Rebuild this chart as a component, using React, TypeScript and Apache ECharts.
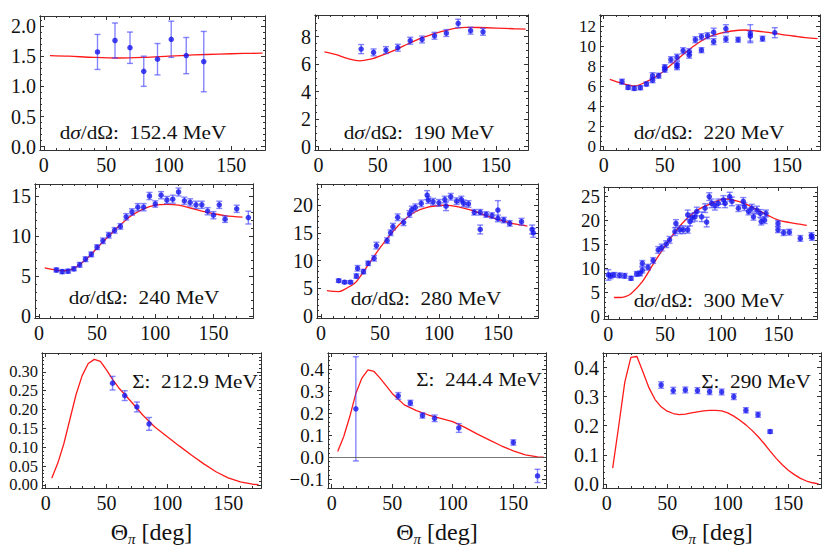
import React, { useEffect, useRef } from "react";
import * as echarts from "echarts";

// ---------- data ----------
const xMajorTicks = [0, 50, 100, 150];
const xMinorTicks = [10, 20, 30, 40, 60, 70, 80, 90, 110, 120, 130, 140, 160, 170];

const panelTitles = [
  "d{i|σ}/dΩ:  152.4 MeV",
  "d{i|σ}/dΩ:  190 MeV",
  "d{i|σ}/dΩ:  220 MeV",
  "d{i|σ}/dΩ:  240 MeV",
  "d{i|σ}/dΩ:  280 MeV",
  "d{i|σ}/dΩ:  300 MeV",
  "Σ:  212.9 MeV",
  "Σ:  244.4 MeV",
  "Σ:  290 MeV",
];
const xAxisTitle = "{a|Θ}{b|π}{a| [deg]}";

// Panel 1: dσ/dΩ 152.4 MeV
const p1Angles = [43, 57, 69, 80, 91, 102, 114, 128];
const p1Values = [1.57, 1.76, 1.64, 1.25, 1.45, 1.78, 1.51, 1.41];
const p1Errors = [0.29, 0.29, 0.26, 0.25, 0.26, 0.3, 0.3, 0.5];
const p1CurveAngles = [5, 20, 40, 60, 80, 100, 120, 140, 160, 175];
const p1CurveValues = [1.51, 1.5, 1.48, 1.47, 1.48, 1.5, 1.52, 1.535, 1.545, 1.55];
const p1YTicks = [0, 0.5, 1, 1.5, 2];

// Panel 2: 190 MeV
const p2Angles = [36, 46.5, 57, 67, 77.5, 87.5, 98, 108, 118, 128.5, 139];
const p2Values = [7.1, 6.86, 7.03, 7.2, 7.71, 7.8, 8.07, 8.27, 8.97, 8.44, 8.36];
const p2Errors = [0.33, 0.25, 0.25, 0.25, 0.25, 0.25, 0.25, 0.25, 0.3, 0.25, 0.25];
const p2CurveAngles = [5, 15, 25, 35, 45, 55, 65, 75, 85, 95, 105, 115, 125, 135, 150, 165, 175];
const p2CurveValues = [6.9, 6.7, 6.4, 6.25, 6.38, 6.7, 7.05, 7.45, 7.85, 8.15, 8.4, 8.6, 8.68, 8.67, 8.63, 8.58, 8.55];
const p2YTicks = [0, 2, 4, 6, 8];

// Panel 3: 220 MeV
const p3Angles = [15, 20, 25, 30, 35, 40, 40, 45, 50, 50, 55, 60, 60, 60, 65, 70, 70, 75, 80, 80, 85, 90, 90, 100, 100, 110, 120, 120, 130, 140];
const p3Values = [6.5, 5.93, 5.83, 5.9, 6.27, 7.1, 6.65, 7.1, 7.7, 7.95, 8.7, 8.2, 8.0, 8.95, 9.6, 9.15, 9.5, 10.7, 11.0, 9.65, 11.1, 11.45, 10.5, 11.8, 10.75, 10.7, 11.3, 11.05, 10.8, 11.4];
const p3Errors = [0.25, 0.2, 0.2, 0.2, 0.2, 0.3, 0.25, 0.25, 0.25, 0.25, 0.3, 0.3, 0.3, 0.3, 0.3, 0.3, 0.3, 0.3, 0.3, 0.25, 0.3, 0.4, 0.3, 0.4, 0.3, 0.25, 0.9, 0.5, 0.25, 0.5];
const p3CurveAngles = [5, 15, 25, 35, 45, 55, 65, 75, 85, 95, 105, 115, 125, 135, 145, 155, 165, 175];
const p3CurveValues = [6.73, 6.33, 6.07, 6.5, 7.17, 8.17, 9.23, 10.17, 10.93, 11.33, 11.57, 11.67, 11.57, 11.43, 11.23, 11.07, 10.9, 10.8];
const p3YTicks = [0, 2, 4, 6, 8, 10, 12];

// Panel 4: 240 MeV
const p4Angles = [15, 20, 25, 30, 35, 40, 45, 50, 55, 60, 65, 70, 75, 80, 85, 90, 95, 100, 105, 110, 115, 120, 125, 130, 135, 140, 145, 150, 155, 160, 170, 180];
const p4Values = [5.75, 5.55, 5.6, 5.9, 6.4, 7.1, 7.7, 8.6, 9.4, 10.1, 10.7, 11.2, 12.4, 13.0, 13.6, 13.6, 15.0, 14.0, 15.1, 14.5, 14.6, 15.5, 14.4, 14.2, 13.9, 13.9, 13.1, 12.6, 13.9, 12.1, 13.4, 12.3];
const p4Errors = [0.25, 0.25, 0.25, 0.25, 0.3, 0.3, 0.3, 0.3, 0.35, 0.35, 0.35, 0.35, 0.4, 0.4, 0.45, 0.45, 0.45, 0.4, 0.45, 0.45, 0.5, 0.5, 0.45, 0.45, 0.45, 0.45, 0.45, 0.45, 0.45, 0.4, 0.45, 0.8];
const p4CurveAngles = [5, 10, 15, 20, 25, 30, 40, 50, 60, 70, 80, 90, 100, 110, 120, 130, 140, 150, 160, 175];
const p4CurveValues = [6.03, 5.85, 5.72, 5.65, 5.72, 5.95, 7.0, 8.5, 10.0, 11.4, 12.6, 13.4, 13.85, 13.95, 13.85, 13.5, 13.1, 12.8, 12.55, 12.35];
const p4YTicks = [0, 5, 10, 15];

// Panel 5: 280 MeV
const p5Angles = [15, 20, 25, 30, 31, 36, 40, 45, 47, 56, 59, 61, 65, 70, 75, 77, 80, 85, 90, 91, 95, 100, 105, 106, 110, 115, 119, 121, 125, 130, 135, 135, 140, 145, 150, 150, 155, 160, 170, 179, 180];
const p5Values = [6.37, 6.1, 6.1, 7.2, 8.6, 8.0, 9.5, 10.4, 12.7, 13.6, 15.0, 16.1, 17.8, 16.9, 18.4, 19.2, 19.6, 20.3, 21.8, 20.9, 20.6, 20.4, 21.0, 19.8, 21.5, 20.7, 21.0, 20.3, 20.2, 18.7, 18.7, 15.6, 18.3, 18.1, 19.1, 17.6, 17.3, 16.7, 17.0, 15.6, 15.0];
const p5Errors = [0.3, 0.25, 0.25, 0.4, 0.5, 0.4, 0.4, 0.5, 0.6, 0.5, 0.5, 0.6, 0.6, 0.6, 0.6, 0.6, 0.6, 0.6, 0.8, 0.6, 0.6, 0.6, 0.6, 0.8, 0.6, 0.6, 0.6, 0.6, 0.6, 0.5, 0.5, 0.8, 0.5, 0.5, 1.7, 0.6, 0.5, 0.5, 0.6, 0.8, 0.8];
const p5CurveAngles = [5, 15, 20, 25, 30, 40, 50, 60, 70, 80, 90, 100, 105, 110, 120, 130, 140, 150, 160, 170, 175];
const p5CurveValues = [4.56, 4.4, 4.8, 5.4, 6.2, 9.2, 12.3, 15.0, 17.2, 18.8, 19.6, 19.9, 20.0, 19.9, 19.5, 18.9, 18.1, 17.4, 16.8, 16.4, 16.2];
const p5YTicks = [0, 5, 10, 15, 20];

// Panel 6: 300 MeV
const p6Angles = [0, 2, 5, 10, 14.5, 20, 25, 28, 30, 30, 35, 39.5, 44, 47, 51, 54, 58.7, 59.6, 63, 66, 70, 70, 72, 74, 76.4, 78, 82.3, 86.7, 85.3, 89, 91, 94, 97, 101.5, 103, 107, 109, 114.7, 119, 120, 123.6, 126.5, 128, 131, 134, 134.8, 137.8, 139, 149.6, 149.6, 154.6, 159.6, 169.3, 179, 179.6];
const p6Values = [8.7, 8.5, 8.7, 8.6, 8.5, 8.0, 8.9, 9.0, 11.1, 9.7, 10.3, 11.7, 13.9, 14.4, 15.1, 16.0, 17.7, 19.4, 18.1, 18.1, 18.1, 21.2, 19.8, 20.6, 20.8, 21.9, 20.8, 19.7, 22.6, 25.0, 23.6, 23.1, 23.6, 24.3, 23.6, 25.0, 24.0, 22.6, 24.0, 22.9, 21.9, 22.6, 20.8, 22.2, 21.5, 19.8, 20.1, 21.5, 19.4, 18.1, 17.5, 17.6, 16.3, 16.9, 16.5];
const p6Errors = [1.1, 0.6, 0.5, 0.5, 0.5, 0.4, 0.5, 0.5, 0.6, 0.6, 0.6, 0.6, 0.7, 0.7, 0.7, 0.7, 0.8, 0.8, 0.8, 0.8, 0.7, 1.0, 0.9, 0.9, 0.9, 0.9, 1.0, 1.0, 0.9, 0.8, 0.9, 0.9, 0.9, 0.9, 0.9, 0.9, 0.9, 0.7, 0.8, 0.8, 0.7, 0.8, 0.7, 0.8, 0.8, 0.7, 0.7, 0.7, 0.6, 0.6, 0.6, 0.6, 0.6, 0.6, 0.6];
const p6CurveAngles = [5, 10, 15, 20, 30, 40, 50, 60, 70, 80, 90, 100, 105, 110, 120, 130, 140, 150, 160, 170, 175];
const p6CurveValues = [4.0, 4.0, 4.2, 4.8, 7.3, 11.1, 14.7, 18.0, 20.6, 22.4, 23.5, 24.4, 24.5, 24.3, 23.6, 22.4, 21.2, 20.1, 19.6, 19.2, 19.0];
const p6YTicks = [0, 5, 10, 15, 20, 25];

// Panel 7: Σ 212.9 MeV
const p7Angles = [55, 65, 75, 85];
const p7Values = [0.27, 0.237, 0.207, 0.162];
const p7Errors = [0.018, 0.013, 0.013, 0.017];
const p7CurveAngles = [5, 10, 15, 20, 25, 30, 35, 40, 45, 50, 55, 60, 70, 80, 90, 100, 110, 120, 130, 140, 150, 160, 170, 175];
const p7CurveValues = [0.018, 0.058, 0.11, 0.175, 0.24, 0.29, 0.322, 0.333, 0.328, 0.305, 0.28, 0.258, 0.222, 0.185, 0.153, 0.128, 0.103, 0.079, 0.056, 0.035, 0.019, 0.008, 0.002, 0.001];
const p7YTicks = [0, 0.05, 0.1, 0.15, 0.2, 0.25, 0.3];

// Panel 8: Σ 244.4 MeV
const p8Angles = [20, 55, 65, 75, 85, 105, 150, 170];
const p8Values = [0.22, 0.279, 0.247, 0.19, 0.177, 0.133, 0.067, -0.085];
const p8Errors = [0.237, 0.015, 0.012, 0.012, 0.015, 0.02, 0.012, 0.03];
const p8CurveAngles = [5, 10, 15, 20, 25, 30, 35, 40, 50, 60, 70, 80, 90, 100, 110, 120, 130, 140, 150, 160, 170, 175];
const p8CurveValues = [0.026, 0.094, 0.185, 0.29, 0.36, 0.397, 0.39, 0.36, 0.29, 0.238, 0.212, 0.192, 0.177, 0.162, 0.136, 0.106, 0.079, 0.052, 0.029, 0.011, 0.002, 0];
const p8YTicks = [-0.1, 0, 0.1, 0.2, 0.3, 0.4];

// Panel 9: Σ 290 MeV
const p9Angles = [45, 55, 65, 75, 85, 95, 105, 115, 125, 135];
const p9Values = [0.34, 0.321, 0.323, 0.321, 0.317, 0.316, 0.3, 0.253, 0.238, 0.18];
const p9Errors = [0.011, 0.011, 0.01, 0.01, 0.01, 0.01, 0.01, 0.009, 0.009, 0.006];
const p9CurveAngles = [5, 10, 15, 20, 25, 30, 35, 40, 45, 50, 55, 60, 65, 70, 75, 80, 85, 90, 95, 100, 105, 110, 115, 120, 125, 130, 135, 140, 145, 150, 155, 160, 165, 170, 175];
const p9CurveValues = [0.054, 0.2, 0.35, 0.435, 0.438, 0.385, 0.33, 0.29, 0.265, 0.25, 0.242, 0.238, 0.24, 0.244, 0.248, 0.251, 0.253, 0.253, 0.251, 0.244, 0.233, 0.219, 0.203, 0.184, 0.163, 0.139, 0.113, 0.088, 0.066, 0.047, 0.032, 0.019, 0.01, 0.004, 0];
const p9YTicks = [0, 0.1, 0.2, 0.3, 0.4];

// ---------- style / layout ----------
const FONT = "Liberation Serif";
const FRAME = "#333333";
const RED = "#ff1a1a";
const POINT_BLUE = "#1515ee";
const BAR_BLUE = "rgba(60,60,255,0.62)";
const X_TICK_FONT = 20;
const TITLE_FONT = 18;
const TITLE_STRETCH = 1.18;

type Panel = {
  ang: number[]; val: number[]; err: number[];
  cAng: number[]; cVal: number[];
  yTicks: number[]; yMinor: number; dec: number; yFont: number;
  box: [number, number, number, number];
  xr: [number, number]; yr: [number, number];
  tpos: [number, number]; smooth: boolean; zeroLine?: boolean; bottomRow?: boolean;
};

const panels: Panel[] = [
  { ang: p1Angles, val: p1Values, err: p1Errors, cAng: p1CurveAngles, cVal: p1CurveValues, yTicks: p1YTicks, yMinor: 0.1, dec: 1, yFont: 20, box: [40, 16, 225, 134], xr: [-3, 177], yr: [-0.055, 2.166], tpos: [143, 133], smooth: true },
  { ang: p2Angles, val: p2Values, err: p2Errors, cAng: p2CurveAngles, cVal: p2CurveValues, yTicks: p2YTicks, yMinor: 0.5, dec: 0, yFont: 20, box: [315, 15, 213, 135], xr: [-3, 177], yr: [-0.24, 9.58], tpos: [419, 133], smooth: true },
  { ang: p3Angles, val: p3Values, err: p3Errors, cAng: p3CurveAngles, cVal: p3CurveValues, yTicks: p3YTicks, yMinor: 0.5, dec: 0, yFont: 17, box: [600, 15, 220, 135], xr: [-3, 177], yr: [-0.33, 13.17], tpos: [709, 133], smooth: true },
  { ang: p4Angles, val: p4Values, err: p4Errors, cAng: p4CurveAngles, cVal: p4CurveValues, yTicks: p4YTicks, yMinor: 1, dec: 0, yFont: 20, box: [35, 184, 218, 134], xr: [-3.4, 184], yr: [-0.25, 16.5], tpos: [144, 298], smooth: true },
  { ang: p5Angles, val: p5Values, err: p5Errors, cAng: p5CurveAngles, cVal: p5CurveValues, yTicks: p5YTicks, yMinor: 1, dec: 0, yFont: 20, box: [317, 184, 221, 134], xr: [-3.4, 184], yr: [-0.36, 23.8], tpos: [426, 299], smooth: true },
  { ang: p6Angles, val: p6Values, err: p6Errors, cAng: p6CurveAngles, cVal: p6CurveValues, yTicks: p6YTicks, yMinor: 1, dec: 0, yFont: 19, box: [604, 187, 213, 132], xr: [-3.8, 184], yr: [-0.48, 27], tpos: [709, 301], smooth: true },
  { ang: p7Angles, val: p7Values, err: p7Errors, cAng: p7CurveAngles, cVal: p7CurveValues, yTicks: p7YTicks, yMinor: 0.01, dec: 2, yFont: 16.5, box: [42, 353, 219, 135], xr: [-3, 177], yr: [-0.008, 0.35], tpos: [195, 382], smooth: false, bottomRow: true },
  { ang: p8Angles, val: p8Values, err: p8Errors, cAng: p8CurveAngles, cVal: p8CurveValues, yTicks: p8YTicks, yMinor: 0.02, dec: 1, yFont: 19, box: [328, 353, 218, 135], xr: [-3, 177], yr: [-0.14, 0.474], tpos: [479, 380], smooth: false, zeroLine: true, bottomRow: true },
  { ang: p9Angles, val: p9Values, err: p9Errors, cAng: p9CurveAngles, cVal: p9CurveValues, yTicks: p9YTicks, yMinor: 0.02, dec: 1, yFont: 20, box: [603, 353, 218, 135], xr: [-3, 177], yr: [-0.014, 0.45], tpos: [756, 382], smooth: false, bottomRow: true },
];

function minorBetween(min: number, max: number, step: number, majors: number[]): number[] {
  const out: number[] = [];
  const start = Math.ceil(min / step - 1e-9);
  const end = Math.floor(max / step + 1e-9);
  for (let k = start; k <= end; k++) {
    const v = Math.round(k * step * 1e6) / 1e6;
    if (!majors.some((m) => Math.abs(m - v) < 1e-9)) out.push(v);
  }
  return out;
}

function fmtNum(v: number, dec: number): string {
  const s = Math.abs(v).toFixed(dec);
  return v < -1e-12 ? "\u2212" + s : s;
}

function frameAxis(gi: number, pos: string, range: [number, number], ticks: number[], len: number, label: any) {
  return {
    type: "value",
    gridIndex: gi,
    position: pos,
    min: range[0],
    max: range[1],
    axisLine: { show: true, onZero: false, lineStyle: { color: FRAME, width: 1 } },
    axisTick: { show: true, inside: true, length: len, customValues: ticks, lineStyle: { color: FRAME, width: 1 } },
    axisLabel: label || { show: false },
    splitLine: { show: false },
    minorTick: { show: false },
    axisPointer: { show: false },
  };
}

function buildOption() {
  const grid: any[] = [];
  const xAxis: any[] = [];
  const yAxis: any[] = [];
  const series: any[] = [];
  const graphic: any[] = [];

  panels.forEach((p, gi) => {
    grid.push({ left: p.box[0], top: p.box[1], width: p.box[2], height: p.box[3], containLabel: false, show: false });

    const xLabel: any = {
      show: true,
      customValues: xMajorTicks,
      formatter: (v: number) => fmtNum(v, 0),
      fontFamily: FONT,
      fontSize: X_TICK_FONT,
      color: "#111",
      margin: 5,
      interval: 0,
      showMinLabel: true,
      showMaxLabel: true,
      hideOverlap: false,
    };
    const bottomMajor: any = frameAxis(gi, "bottom", p.xr, xMajorTicks, 4, xLabel);
    if (p.bottomRow) {
      bottomMajor.name = xAxisTitle;
      bottomMajor.nameLocation = "middle";
      bottomMajor.nameGap = 30;
      bottomMajor.nameTextStyle = {
        fontFamily: FONT,
        fontSize: 24,
        color: "#111",
        rich: {
          a: { fontFamily: FONT, fontSize: 24, color: "#111", lineHeight: 28, verticalAlign: "middle" },
          b: { fontFamily: FONT, fontSize: 15, fontStyle: "italic", color: "#111", lineHeight: 28, verticalAlign: "bottom" },
        },
      };
    }
    xAxis.push(bottomMajor);
    xAxis.push(frameAxis(gi, "top", p.xr, xMajorTicks, 4, null));
    xAxis.push(frameAxis(gi, "top", p.xr, xMinorTicks, 2, null));
    xAxis.push(frameAxis(gi, "bottom", p.xr, xMinorTicks, 2, null));

    const yMinorTicks = minorBetween(p.yr[0], p.yr[1], p.yMinor, p.yTicks);
    const yLabel: any = {
      show: true,
      customValues: p.yTicks,
      formatter: (v: number) => fmtNum(v, p.dec),
      fontFamily: FONT,
      fontSize: p.yFont,
      color: "#111",
      margin: 4,
      interval: 0,
      showMinLabel: true,
      showMaxLabel: true,
      hideOverlap: false,
    };
    yAxis.push(frameAxis(gi, "left", p.yr, p.yTicks, 4, yLabel));
    yAxis.push(frameAxis(gi, "right", p.yr, p.yTicks, 4, null));
    yAxis.push(frameAxis(gi, "right", p.yr, yMinorTicks, 2, null));
    yAxis.push(frameAxis(gi, "left", p.yr, yMinorTicks, 2, null));

    const xi = gi * 4;
    const yi = gi * 4;

    const curve: any = {
      type: "line",
      xAxisIndex: xi,
      yAxisIndex: yi,
      data: p.cAng.map((a, i) => [a, p.cVal[i]]),
      showSymbol: false,
      symbol: "none",
      smooth: p.smooth ? 0.35 : false,
      lineStyle: { color: RED, width: 1.3 },
      z: 2,
      silent: true,
    };
    if (p.zeroLine) {
      curve.markLine = {
        silent: true,
        symbol: ["none", "none"],
        label: { show: false },
        lineStyle: { color: "#555", width: 0.8, type: "solid" },
        data: [{ yAxis: 0 }],
      };
    }
    series.push(curve);

    series.push({
      type: "custom",
      xAxisIndex: xi,
      yAxisIndex: yi,
      data: p.ang.map((a, i) => [a, p.val[i], p.err[i]]),
      encode: { x: 0, y: 1 },
      z: 3,
      silent: true,
      renderItem: (params: any, api: any) => {
        const x = api.value(0);
        const y = api.value(1);
        const e = api.value(2);
        const top = api.coord([x, y + e]);
        const bot = api.coord([x, y - e]);
        const cap = 3;
        const st = { stroke: BAR_BLUE, lineWidth: 1.4 };
        return {
          type: "group",
          children: [
            { type: "line", shape: { x1: top[0], y1: top[1], x2: bot[0], y2: bot[1] }, style: st },
            { type: "line", shape: { x1: top[0] - cap, y1: top[1], x2: top[0] + cap, y2: top[1] }, style: st },
            { type: "line", shape: { x1: bot[0] - cap, y1: bot[1], x2: bot[0] + cap, y2: bot[1] }, style: st },
          ],
        };
      },
    });

    series.push({
      type: "scatter",
      xAxisIndex: xi,
      yAxisIndex: yi,
      data: p.ang.map((a, i) => [a, p.val[i]]),
      symbol: "circle",
      symbolSize: 5.5,
      itemStyle: { color: POINT_BLUE },
      z: 4,
      silent: true,
    });

    graphic.push({
      type: "text",
      x: p.tpos[0],
      y: p.tpos[1],
      scaleX: TITLE_STRETCH,
      silent: true,
      z: 10,
      style: {
        text: panelTitles[gi],
        fontFamily: FONT,
        fontSize: TITLE_FONT,
        fill: "#111",
        align: "center",
        verticalAlign: "middle",
        rich: {
          i: { fontFamily: FONT, fontSize: TITLE_FONT, fontStyle: "italic", fill: "#111" },
        },
      },
    });
  });

  return {
    animation: false,
    backgroundColor: "#ffffff",
    textStyle: { fontFamily: FONT },
    grid,
    xAxis,
    yAxis,
    series,
    graphic,
  };
}

export default function App() {
  const ref = useRef<HTMLDivElement>(null);
  useEffect(() => {
    if (!ref.current) return;
    const chart = echarts.init(ref.current, undefined, { renderer: "svg" });
    chart.setOption(buildOption() as any);
    return () => chart.dispose();
  }, []);
  return (
    <div
      ref={ref}
      style={{ position: "absolute", left: 0, top: 0, width: 830, height: 558, background: "#fff" }}
    />
  );
}
